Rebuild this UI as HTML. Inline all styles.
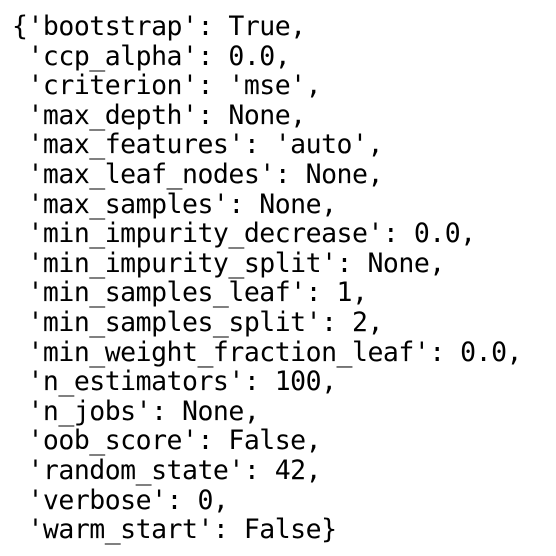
<!DOCTYPE html>
<html><head><meta charset="utf-8"><style>
html,body{margin:0;padding:0;background:#fff;width:556px;height:556px;overflow:hidden}
pre{position:absolute;left:12px;top:12px;margin:0;font-family:"DejaVu Sans Mono","Liberation Mono",monospace;font-size:26.5px;letter-spacing:-0.5px;line-height:29.6px;color:#000}
</style></head><body><pre>{'bootstrap': True,
 'ccp_alpha': 0.0,
 'criterion': 'mse',
 'max_depth': None,
 'max_features': 'auto',
 'max_leaf_nodes': None,
 'max_samples': None,
 'min_impurity_decrease': 0.0,
 'min_impurity_split': None,
 'min_samples_leaf': 1,
 'min_samples_split': 2,
 'min_weight_fraction_leaf': 0.0,
 'n_estimators': 100,
 'n_jobs': None,
 'oob_score': False,
 'random_state': 42,
 'verbose': 0,
 'warm_start': False}</pre></body></html>
